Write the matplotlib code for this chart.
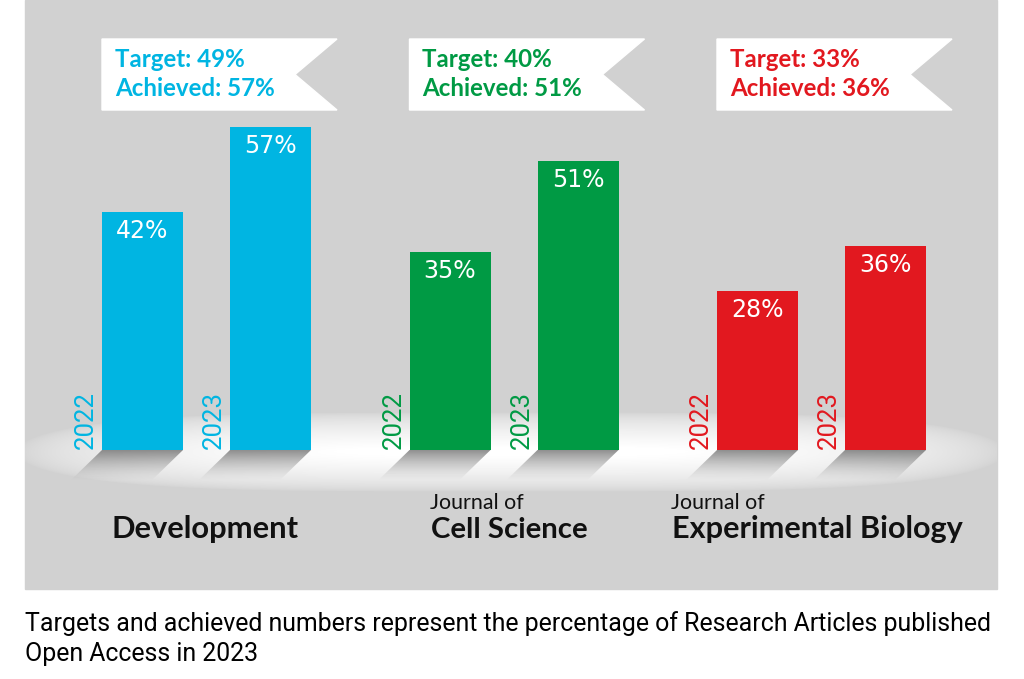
import matplotlib.pyplot as plt
from matplotlib.patches import Rectangle, Polygon
import numpy as np

# data
journals = ["Development", "Cell Science", "Experimental Biology"]
prefixes = ["", "Journal of", "Journal of"]
years = ["2022", "2023"]
share_2022 = [42, 35, 28]
share_2023 = [57, 51, 36]
targets = [49, 40, 33]
colors = ["#00b5e2", "#009a44", "#e2181f"]
caption = ("Targets and achieved numbers represent the percentage of Research Articles published\n"
           "Open Access in 2023")

W, H = 1024, 679
fig = plt.figure(figsize=(W / 100, H / 100), dpi=100)
fig.patch.set_facecolor("white")

# background axes in pixel coords (y down)
bg = fig.add_axes([0, 0, 1, 1])
bg.set_xlim(0, W)
bg.set_ylim(H, 0)
bg.axis("off")
bg.add_patch(Rectangle((25, 0), 972, 589, color="#d1d1d1", zorder=0))

# white glow around the base line
gx = np.linspace(25, 997, 600)
gy = np.linspace(390, 515, 125)
XX, YY = np.meshgrid(gx, gy)
d = np.sqrt(((XX - 511) / 495) ** 4 + ((YY - 452) / 40) ** 2)
glow = np.zeros((len(gy), len(gx), 4))
glow[..., :3] = 1.0
glow[..., 3] = np.clip(1.15 * (1 - d), 0, 1) ** 0.6
bg.imshow(glow, extent=(25, 997, 515, 390), aspect="auto", zorder=1, interpolation="bilinear")

# bar axes: % on y, group index on x
x0_px, group_px = 206.5, 307.5
base_px, pct_px = 450, 5.667
ax = fig.add_axes([0, 0, 1, 1])
ax.patch.set_alpha(0)
ax.axis("off")
xlim = (-x0_px / group_px, (W - x0_px) / group_px)
ylim = (-(H - base_px) / pct_px, base_px / pct_px)
ax.set_xlim(*xlim)
ax.set_ylim(*ylim)

x = np.arange(len(journals))
width = 81 / group_px
off = 64 / group_px
bars1 = ax.bar(x - off, share_2022, width, color=colors, zorder=3)
bars2 = ax.bar(x + off, share_2023, width, color=colors, zorder=3)


def to_px(xd, yd):
    dx, dy = ax.transData.transform((xd, yd))
    return dx, H - dy


def fit(txt, target_w):
    r = fig.canvas.get_renderer()
    w = txt.get_window_extent(r).width
    txt.set_fontsize(txt.get_fontsize() * target_w / w)


# shadows under each bar
shade = np.zeros((40, 2, 4))
shade[..., :3] = 0.42
shade[..., 3] = np.linspace(0.8, 0.0, 40)[:, None] ** 1.3
for b in list(bars1) + list(bars2):
    l, yb = to_px(b.get_x(), 0)
    r_, _ = to_px(b.get_x() + b.get_width(), 0)
    poly = Polygon([(l, yb), (r_, yb), (r_ - 32, yb + 31), (l - 32, yb + 31)],
                   closed=True, facecolor="none", edgecolor="none")
    bg.add_patch(poly)
    im = bg.imshow(shade, extent=(l - 32, r_, yb + 31, yb), aspect="auto",
                   zorder=2, interpolation="bilinear")
    im.set_clip_path(poly)

# value labels and year labels
for bars, yr in ((bars1, years[0]), (bars2, years[1])):
    for b, c in zip(bars, colors):
        ax.annotate(f"{b.get_height():.0f}%", (b.get_x() + b.get_width() / 2, b.get_height()),
                    xytext=(0, -19), textcoords="offset pixels", ha="center", va="center",
                    color="white", fontsize=17, family="DejaVu Sans", zorder=4)
        ax.annotate(yr, (b.get_x(), 0), xytext=(-4, 1), textcoords="offset pixels",
                    rotation=90, ha="right", va="bottom", color=c, fontsize=18.5,
                    family="Roboto", zorder=4)

# banners
bsize = None
for i, b in enumerate(bars1):
    l, _ = to_px(b.get_x(), 0)
    top, bot, bw, notch = 39, 110, 235, 42
    bg.add_patch(Polygon([(l, top), (l + bw, top), (l + bw - notch, (top + bot) / 2),
                          (l + bw, bot), (l, bot)], closed=True, color="white", zorder=3))
    t1 = bg.text(l + 13, 67, f"Target: {targets[i]}%", color=colors[i], fontsize=16,
                 fontweight="bold", family="Lato", zorder=4)
    t2 = bg.text(l + 13, 96, f"Achieved: {share_2023[i]}%", color=colors[i], fontsize=16,
                 fontweight="bold", family="Lato", zorder=4)
    if bsize is None:
        fit(t2, 161)
        bsize = t2.get_fontsize()
    t1.set_fontsize(bsize)
    t2.set_fontsize(bsize)

# journal names
name_x = [111, 431, 672]
name_w = [187, 157, 291]
for i, name in enumerate(journals):
    t = bg.text(name_x[i], 538, name, color="#111111", fontsize=24, fontweight="bold",
                family="Lato", zorder=4)
    fit(t, name_w[i])
    if prefixes[i]:
        p = bg.text(name_x[i] - 1, 509, prefixes[i], color="#111111", fontsize=14,
                    family="Lato", zorder=4)
        fit(p, 94)

# caption
lines = caption.split("\n")
c1 = bg.text(25, 631, lines[0], color="black", fontsize=16, family="Roboto")
fit(c1, 965)
c2 = bg.text(25, 661, lines[1], color="black", fontsize=c1.get_fontsize(), family="Roboto")

ax.set_xlim(*xlim)
ax.set_ylim(*ylim)
fig.savefig("out.png", dpi=100)
